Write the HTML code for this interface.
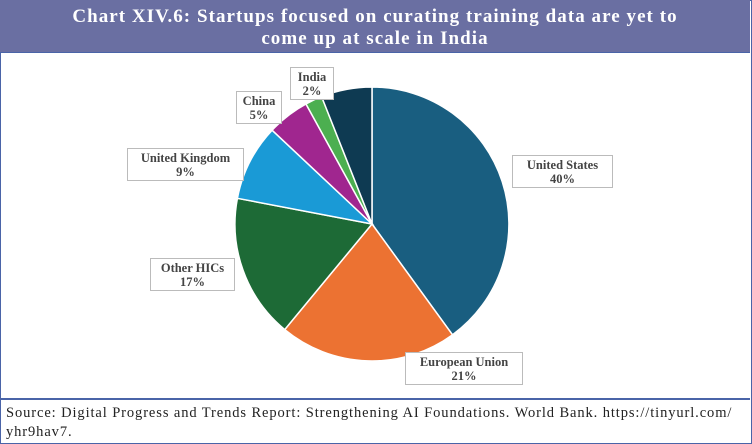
<!DOCTYPE html>
<html><head><style>
body{margin:0;width:752px;height:444px;overflow:hidden;background:#fff;font-family:"Liberation Serif",serif;}
.frame{position:absolute;left:0;top:0;width:750px;height:442px;border:1px solid #4a64a8;}
.hdr{position:absolute;left:0;top:0;width:750px;height:53px;background:#6a6fa2;color:#fff;font-weight:bold;font-size:19px;letter-spacing:1.05px;text-align:center;line-height:22px;padding-top:6px;box-sizing:border-box;border-bottom:1px solid #4a64a8;}
.foot{position:absolute;left:0;top:398px;width:750px;height:44px;border-top:2px solid #4a64a8;font-size:14.5px;letter-spacing:0.9px;line-height:19px;padding:4px 0 0 6px;box-sizing:border-box;color:#222;white-space:nowrap;}
.lb{position:absolute;background:#fff;border:1px solid #bbb;font-weight:bold;font-size:12.5px;line-height:14px;text-align:center;color:#444;padding:2px 2px;box-sizing:border-box;white-space:nowrap;}
</style></head><body>
<div class="frame"></div>
<div class="hdr">Chart XIV.6: Startups focused on curating training data are yet to<br>come up at scale in India</div>
<svg style="position:absolute;left:0;top:0" width="752" height="444">
<g stroke="#fff" stroke-width="1.5">
<path d="M372,224 L372,87 A137,137 0 0 1 452.5,334.8 Z" fill="#195e80"/>
<path d="M372,224 L452.5,334.8 A137,137 0 0 1 284.7,329.6 Z" fill="#ec7232"/>
<path d="M372,224 L284.7,329.6 A137,137 0 0 1 237.4,198.3 Z" fill="#1d6a36"/>
<path d="M372,224 L237.4,198.3 A137,137 0 0 1 272.1,130.2 Z" fill="#1a9ad6"/>
<path d="M372,224 L272.1,130.2 A137,137 0 0 1 306.0,104.0 Z" fill="#a0268f"/>
<path d="M372,224 L306.0,104.0 A137,137 0 0 1 321.6,96.6 Z" fill="#4caf50"/>
<path d="M372,224 L321.6,96.6 A137,137 0 0 1 372,87 Z" fill="#0e3a52"/>
</g>
</svg>
<div class="lb" style="left:290px;top:67px;width:44px;height:33px">India<br>2%</div>
<div class="lb" style="left:236px;top:91px;width:46px;height:33px">China<br>5%</div>
<div class="lb" style="left:127px;top:148px;width:117px;height:33px">United Kingdom<br>9%</div>
<div class="lb" style="left:150px;top:258px;width:85px;height:33px">Other HICs<br>17%</div>
<div class="lb" style="left:512px;top:155px;width:101px;height:33px">United States<br>40%</div>
<div class="lb" style="left:405px;top:352px;width:118px;height:33px">European Union<br>21%</div>
<div class="foot">Source: Digital Progress and Trends Report: Strengthening AI Foundations. World Bank. https://tinyurl.com/<br>yhr9hav7.</div>
</body></html>
